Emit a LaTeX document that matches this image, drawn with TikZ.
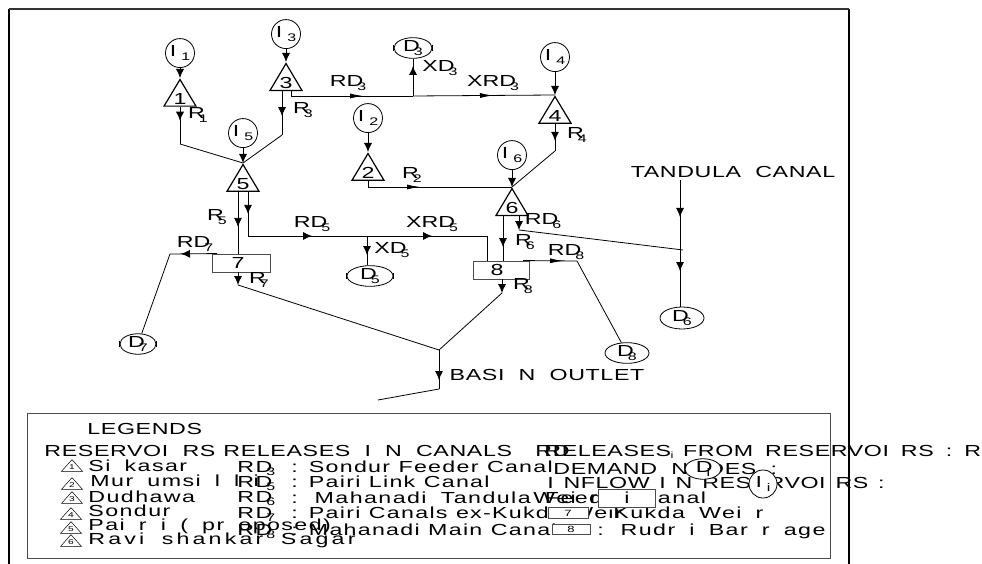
\documentclass[tikz,border=0pt]{standalone}
\usepackage{fontspec}
\usetikzlibrary{shapes.geometric,arrows.meta,positioning,decorations.markings}
\newfontfamily\lblfont[FakeStretch=1.45]{Liberation Sans}
\newfontfamily\legfont[FakeStretch=1.45,LetterSpace=4,WordSpace=2]{Liberation Sans}
\newfontfamily\fromfont[FakeStretch=1.45,LetterSpace=3.8,WordSpace=1.7]{Liberation Sans}
\newfontfamily\inffont[FakeStretch=1.45,LetterSpace=3.5,WordSpace=1.4]{Liberation Sans}
\newfontfamily\rowfont[FakeStretch=1.45,LetterSpace=9,WordSpace=1.8]{Liberation Sans}
\newfontfamily\canalfont[FakeStretch=1.45,LetterSpace=8,WordSpace=1.1]{Liberation Sans}
\newfontfamily\sagarfont[FakeStretch=1.45,LetterSpace=20,WordSpace=1.8]{Liberation Sans}
\newcommand{\subl}[2]{#1\kern-6pt\raisebox{-3.5pt}{\fontsize{11}{11}\selectfont #2}}
\newcommand{\subi}[1]{I\kern5pt\raisebox{-4pt}{\fontsize{11}{11}\selectfont #1}}
\begin{document}
\begin{tikzpicture}[
			x=1pt,y=-1pt,
			line width=.8pt,
			>={Latex[length=9pt,width=8pt]},
			res/.style={
				draw,
				isosceles triangle,
				isosceles triangle stretches,
				shape border rotate=90,
				anchor=apex,
				inner sep=0pt,
				line width=1.2pt,
				minimum width=32pt,
				minimum height=26pt,
				font=\fontsize{16}{16}\lblfont
			},
			minires/.style={
				draw,
				isosceles triangle,
				isosceles triangle stretches,
				shape border rotate=90,
				anchor=apex,
				inner sep=0pt,
				line width=.5pt,
				minimum width=21pt,
				minimum height=11pt,
				font=\fontsize{7}{7}\lblfont
			},
			inflow/.style={
				draw,
				circle,
				fill=white,
				inner sep=0pt,
				minimum size=29pt,
				font=\fontsize{16}{16}\lblfont
			},
			demand/.style={
				draw,
				ellipse,
				fill=white,
				inner sep=0pt,
				font=\fontsize{16}{16}\lblfont
			},
			weir/.style={
				draw=black!70,
				fill=white,
				inner sep=0pt,
				line width=.9pt,
				font=\fontsize{16}{16}\lblfont
			},
			lbl/.style={
				inner sep=0pt,
				font=\fontsize{16}{16}\lblfont
			},
			leg/.style={
				anchor=base west,
				inner sep=0pt,
				font=\fontsize{16}{16}\legfont
			},
			row/.style={
				anchor=base west,
				inner sep=0pt,
				font=\fontsize{16}{16}\rowfont
			},
			canal/.style={
				anchor=base west,
				inner sep=0pt,
				font=\fontsize{16}{16}\canalfont
			},
			flow/.style={
				postaction={decorate},
				decoration={markings,mark=at position #1 with {\arrow{>}}}
			},
			flat/.style={
				postaction={decorate},
				decoration={markings,mark=at position #1 with {\arrow{Latex[length=13pt,width=5pt]}}}
			}
			]
			
			\useasboundingbox (0,0) rectangle (982,564);
			
			\draw[line width=2.2pt] (9,564) -- (9,9);
			\draw[line width=2.2pt] (849,9) -- (849,564);
			\draw[line width=1.2pt,black!80] (9,9) -- (849,9);
			
			\node[res] (res1) at (180,78) {1};
			\node[res] (res2) at (368,152) {2};
			\node[res] (res3) at (286,62) {3};
			\node[res] (res4) at (555,95) {4};
			\node[res] (res5) at (243,163) {5};
			\node[res] (res6) at (512,187) {6};
			
			\node[inflow,above=10pt of res1.apex] (inf1) {\subi{1}};
			\node[inflow,above=19pt of res2.apex] (inf2) {\subi{2}};
			\node[inflow,above=13pt of res3.apex] (inf3) {\subi{3}};
			\node[inflow,above=23pt of res4.apex] (inf4) {\subi{4}};
			\node[inflow,above=15pt of res5.apex] (inf5) {\subi{5}};
			\node[inflow,above=17pt of res6.apex] (inf6) {\subi{6}};
			
			\node[weir,minimum width=58pt,minimum height=18pt] (weir7) at (241,263) {7\kern6pt};
			\node[weir,minimum width=56pt,minimum height=18pt] (weir8) at (501,270) {8\kern8pt};
			
			\node[demand,minimum width=38pt,minimum height=19pt] (dem3) at (413,48) {\subl{D}{3}};
			\node[demand,minimum width=46pt,minimum height=18pt] (dem5) at (370,276) {\subl{D}{5}};
			\node[demand,minimum width=44pt,minimum height=22pt] (dem6) at (682,318) {\subl{D}{6}};
			\node[demand,minimum width=36pt,minimum height=16pt] (dem7) at (138,344) {\subl{D}{7}};
			\node[demand,minimum width=44pt,minimum height=20pt] (dem8) at (627,353) {\subl{D}{8}};
			
			\draw (dem3.west) ++(0,-3) -- ++(0,6) (dem3.east) ++(0,-3) -- ++(0,6);
			\draw (dem5.west) ++(0,-3) -- ++(0,6) (dem5.east) ++(0,-3) -- ++(0,6);
			\draw (dem7.west) ++(0,-3) -- ++(0,6) (dem7.east) ++(0,-3) -- ++(0,6);
			
			\node[lbl] (tandula) at (733,172) {\legfont TANDULA CANAL};
			\node[lbl] (outlet) at (547,375) {\legfont BASI N OUTLET};
			
			\coordinate (rd3turn) at (291,96);
			\coordinate (xd3join) at (413,96);
			\coordinate (r1turn) at (180,144);
			\coordinate (r3turn) at (282,135);
			\coordinate (r2turn) at (368,187);
			\coordinate (r4turn) at (555,151);
			\coordinate (rd5turn) at (248,236);
			\coordinate (xd5join) at (367,236);
			\coordinate (xrd5turn) at (487,236);
			\coordinate (rd7turn) at (170,254);
			\coordinate (r7turn) at (238,285);
			\coordinate (r8turn) at (502,293);
			\coordinate (rd8turn) at (577,261);
			\coordinate (rd6turn) at (519,230);
			\coordinate (basin) at (439,350);
			\coordinate (basinlow) at (439,389);
			\coordinate (basinend) at (378,400);
			\coordinate (canaltop) at (680,180);
			\coordinate (canaljoin) at (680,250);
			\coordinate (rd6end) at (683,250);
			
			\draw[->] (inf1) -- (res1.apex);
			\draw[->] (inf2) -- (res2.apex);
			\draw[->] (inf3) -- (res3.apex);
			\draw[->] (inf4) -- (res4.apex);
			\draw[->] (inf5) -- (res5.apex);
			\draw[->] (inf6) -- (res6.apex);
			
			\draw[flow=14pt] (res1.lower side) -- (r1turn);
			\draw (r1turn) -- (res5.apex);
			\draw[flow=25pt] ([xshift=-4pt]res3.lower side) -- (r3turn);
			\draw (r3turn) -- (res5.apex);
			\draw ([xshift=5pt]res3.lower side) -- (rd3turn);
			\draw[flat=72pt] (rd3turn) -- (xd3join);
			\draw[flat=80pt] (xd3join) -- (res4.apex);
			\draw[flow=30pt] (xd3join) -- (dem3);
			\draw (res2.lower side) -- (r2turn);
			\draw[flat=52pt] (r2turn) -- (res6.apex);
			\draw[flow=17pt] (res4.lower side) -- (r4turn);
			\draw (r4turn) -- (res6.apex);
			
			\draw[flow=35pt] ([xshift=-5pt]res5.lower side) -- ([xshift=-3pt]weir7.north);
			\draw[flow=22pt] ([xshift=5pt]res5.lower side) -- (rd5turn);
			\draw[flow=64pt] (rd5turn) -- (xd5join);
			\draw[flow=65pt] (xd5join) -- (xrd5turn);
			\draw (xrd5turn) -- ([xshift=-14pt]weir8.north);
			\draw[flow=19pt] (xd5join) -- (xd5join |- dem5.north);
			
			\draw[flow=36pt] ([xshift=-24pt]weir7.north) -- (rd7turn);
			\draw (rd7turn) -- (dem7);
			\draw[->] ([xshift=-3pt]weir7.south) -- (r7turn);
			\draw (r7turn) -- (basin);
			
			\draw[flow=31pt] ([xshift=-9pt]res6.lower side) -- ([xshift=2pt]weir8.north);
			\draw[->] ([xshift=7pt]res6.lower side) -- (rd6turn);
			\draw (rd6turn) -- (rd6end);
			\draw[flat=40pt] ([xshift=22pt]weir8.north) -- (rd8turn);
			\draw (rd8turn) -- (dem8);
			\draw[->] ([xshift=1pt]weir8.south) -- (r8turn);
			\draw (r8turn) -- (basin);
			
			\draw[flow=30pt] (basin) -- (basinlow);
			\draw (basinlow) -- (basinend);
			\draw[flow=37pt] (canaltop) -- (canaljoin);
			\draw[flow=21pt] (canaljoin) -- (canaljoin |- dem6.north);
			
			\node[lbl] (labr1) at (198,115) {\subl{R}{1}};
			\node[lbl] (labr2) at (412,175) {\subl{R}{2}};
			\node[lbl] (labr3) at (303,110) {\subl{R}{3}};
			\node[lbl] (labr4) at (577,135) {\subl{R}{4}};
			\node[lbl] (labr5) at (217,217) {\subl{R}{5}};
			\node[lbl] (labr6) at (525,242) {\subl{R}{6}};
			\node[lbl] (labr7) at (259,280) {\subl{R}{7}};
			\node[lbl] (labr8) at (523,286) {\subl{R}{8}};
			\node[lbl] (labrd3) at (348,83) {\subl{RD}{3}};
			\node[lbl] (labrd5) at (312,224) {\subl{RD}{5}};
			\node[lbl] (labrd6) at (543,221) {\subl{RD}{6}};
			\node[lbl] (labrd7) at (195,244) {\subl{RD}{7}};
			\node[lbl] (labrd8) at (566,252) {\subl{RD}{8}};
			\node[lbl] (labxd3) at (440,68) {\subl{XD}{3}};
			\node[lbl] (labxd5) at (392,250) {\subl{XD}{5}};
			\node[lbl] (labxrd3) at (493,83) {\subl{XRD}{3}};
			\node[lbl] (labxrd5) at (432,224) {\subl{XRD}{5}};
			
			\draw[black!70,line width=.9pt] (27,413) rectangle (830,558);
			
			\node[leg] (legends) at (87,434) {LEGENDS};
			\node[leg] (legres) at (44,456) {RESERVOI RS};
			\node[leg] (legrel) at (223,456) {RELEASES I N CANALS};
			\node[leg] (legrd) at (535,456) {RD};
			\node[leg,font=\fontsize{16}{16}\fromfont] (legfrom) at (544,456) {RELEASES FROM RESERVOI RS : R};
			\node[lbl,font=\fontsize{9}{9}\lblfont] (legsubi) at (672,455) {i};
			\node[leg] (legdem) at (553,474) {DEMAND NODES :};
			\node[leg,font=\fontsize{16}{16}\inffont] (leginf) at (547,488) {I NFLOW I N RESERVOI RS :};
			
			\node[minires] (mini1) at (72,459) {1};
			\node[minires] (mini2) at (72,477) {2};
			\node[minires] (mini3) at (72,491) {3};
			\node[minires] (mini4) at (71,507) {4};
			\node[minires] (mini5) at (71,521) {5};
			\node[minires] (mini6) at (71,534) {6};
			
			\node[row] (name1) at (88,471) {Si kasar};
			\node[row] (name2) at (90,486) {Mur umsi l l i};
			\node[row] (name3) at (88,502) {Dudhawa};
			\node[row] (name4) at (88,516) {Sondur};
			\node[row] (name5) at (88,530) {Pai r i ( pr oposed)};
			\node[row,font=\fontsize{16}{16}\sagarfont] (name6) at (88,544) {Ravi shankar Sagar};
			
			\node[row] (code3) at (237,472) {\subl{RD}{3}};
			\node[row] (code5) at (237,487) {\subl{RD}{5}};
			\node[row] (code6) at (237,502) {\subl{RD}{6}};
			\node[row] (code7) at (237,518) {\subl{RD}{7}};
			\node[row] (code8) at (237,535) {\subl{RD}{8}};
			
			\node[canal] (canal3) at (291,472) {: Sondur Feeder Canal};
			\node[canal] (canal5) at (291,487) {: Pairi Link Canal};
			\node[row] (canal6) at (291,503) {: Mahanadi Tandula Feeder Canal};
			\node[canal] (canal7) at (291,518) {: Pairi Canals ex-Kukda Weir};
			\node[canal] (canal8) at (291,535) {: Mahanadi Main Canal};
			
			\node[row] (wei) at (533,503) {Wei r};
			\node[row] (kukda) at (613,518) {Kukda Wei r};
			\node[row] (rudri) at (597,535) {: Rudr i Bar r age};
			
			\node[demand,minimum width=36pt,minimum height=20pt] (legd) at (703,469) {\subl{D}{i}};
			\node[inflow,minimum size=28pt] (legi) at (763,484) {\subi{i}};
			\node[weir,minimum width=57pt,minimum height=18pt] (legbox) at (627,498) {i};
			\node[weir,minimum width=40pt,minimum height=11pt,font=\fontsize{9}{9}\lblfont] (legbox7) at (568,513) {7};
			\node[weir,minimum width=38pt,minimum height=10pt,font=\fontsize{9}{9}\lblfont] (legbox8) at (571,529) {8};
			
		\end{tikzpicture}
\end{document}
